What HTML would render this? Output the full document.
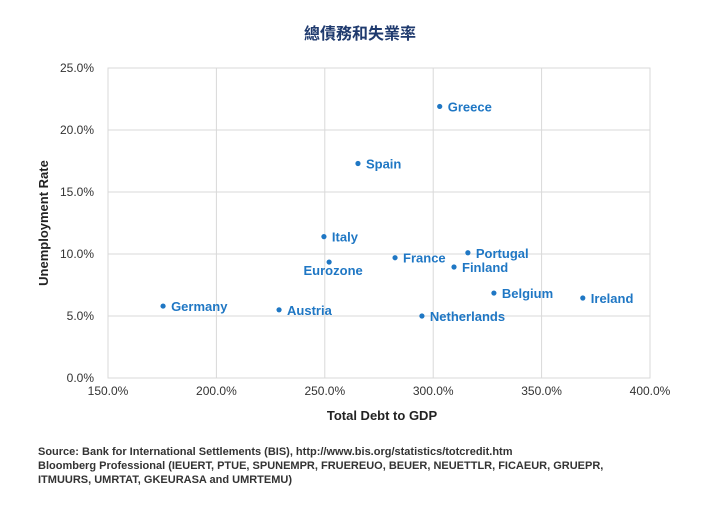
<!DOCTYPE html>
<html><head><meta charset="utf-8"><style>
body{margin:0;background:#fff;width:720px;height:500px;overflow:hidden;font-family:"Liberation Sans","Noto Sans CJK TC",sans-serif}
svg text{font-family:"Liberation Sans","Noto Sans CJK TC",sans-serif}
</style></head><body>
<svg width="720" height="500">
<text x="360" y="39" text-anchor="middle" font-size="16" font-weight="bold" fill="#1f3a6e">總債務和失業率</text>
<g id="grid"></g><g id="axes"></g><g id="pts"></g>
<text x="382" y="420" text-anchor="middle" font-size="13" font-weight="bold" fill="#222">Total Debt to GDP</text>
<text transform="translate(48,223) rotate(-90)" text-anchor="middle" font-size="13" font-weight="bold" fill="#222">Unemployment Rate</text>
<g font-size="11" font-weight="bold" fill="#333">
<text x="38" y="455">Source: Bank for International Settlements (BIS), http://www.bis.org/statistics/totcredit.htm</text>
<text x="38" y="469">Bloomberg Professional (IEUERT, PTUE, SPUNEMPR, FRUEREUO, BEUER, NEUETTLR, FICAEUR, GRUEPR,</text>
<text x="38" y="483">ITMUURS, UMRTAT, GKEURASA and UMRTEMU)</text>
</g>
</svg>
<script>
const countries=["Greece","Spain","Italy","Eurozone","France","Portugal","Finland","Belgium","Ireland","Netherlands","Austria","Germany"];
const debt=[303,265.3,249.6,252,282.4,316,309.6,328,369,294.8,228.9,175.4];
const unemp=[21.9,17.3,11.4,9.35,9.7,10.1,8.95,6.85,6.45,5.0,5.5,5.8];
const xTicks=[150,200,250,300,350,400];
const yTicks=[0,5,10,15,20,25];
const X0=108,X1=650,Y0=378,Y1=68;
const xs=v=>X0+(v-150)/250*(X1-X0);
const ys=v=>Y0-v/25*(Y0-Y1);
const NS="http://www.w3.org/2000/svg";
function mk(t,a,p){const e=document.createElementNS(NS,t);for(const k in a)e.setAttribute(k,a[k]);p.appendChild(e);return e;}
const grid=document.getElementById('grid'),axes=document.getElementById('axes'),pts=document.getElementById('pts');
mk('rect',{x:X0,y:Y1,width:X1-X0,height:Y0-Y1,fill:'none',stroke:'#d9d9d9'},grid);
yTicks.forEach(v=>{
 const l=mk('line',{x1:X0,x2:X1,y1:ys(v),y2:ys(v),stroke:'#d9d9d9'},grid);
 
 
 const t=mk('text',{x:X0-14,y:ys(v)+4,'text-anchor':'end','font-size':12,fill:'#333'},axes);
 t.textContent=v.toFixed(1)+'%';
 
 
});
xTicks.forEach(v=>{
 const l=mk('line',{x1:xs(v),x2:xs(v),y1:Y1,y2:Y0,stroke:'#d9d9d9'},grid);
 
 
 const t=mk('text',{x:xs(v),y:Y0+17,'text-anchor':'middle','font-size':12,fill:'#333'},axes);
 t.textContent=v.toFixed(1)+'%';
 
 
});
countries.forEach((c,i)=>{
 const cx=xs(debt[i]),cy=ys(unemp[i]);
 const d=mk('circle',{cx:cx,cy:cy,r:2.6,fill:'#1f77c4'},pts);
 
 
 const below=c==="Eurozone";
 const t=mk('text',{x:below?cx+4:cx+8,y:below?cy+13:cy+5,'text-anchor':below?'middle':'start','font-size':13,'font-weight':'bold',fill:'#1f77c4'},pts);
 t.textContent=c;
 
 
});
</script>
</body></html>
